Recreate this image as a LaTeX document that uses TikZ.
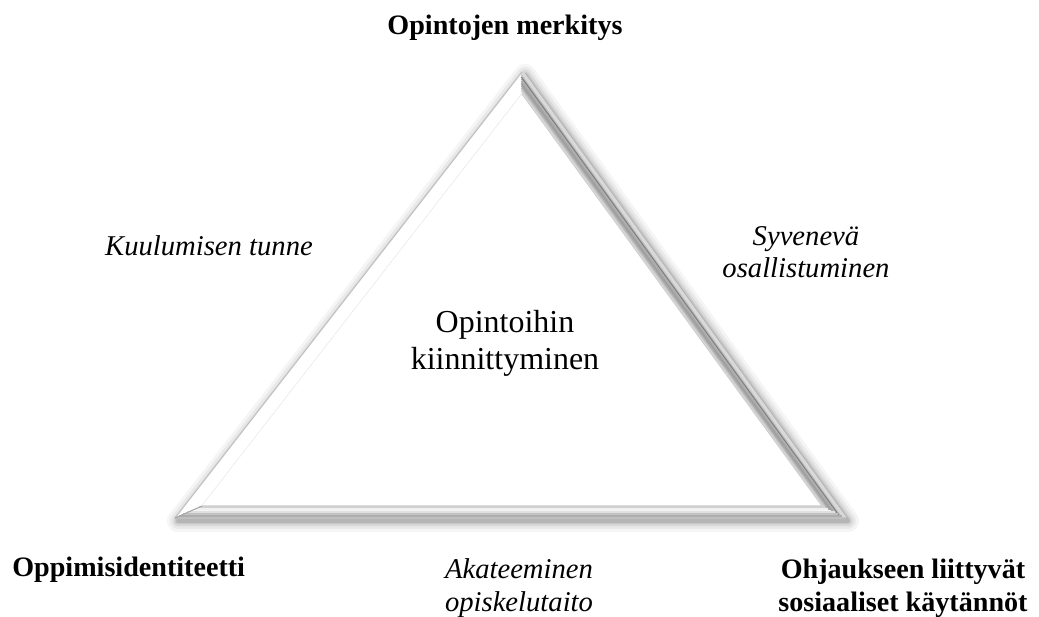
\documentclass[tikz,border=0pt]{standalone}
\usepackage{fontspec}
\setmainfont{Liberation Serif}
\usetikzlibrary{calc}
\begin{document}
\begin{tikzpicture}[x=0.02cm,y=-0.02cm,
  lab/.style={font=\fontsize{16}{18.7}\selectfont\bfseries, align=center, inner sep=0pt},
  itl/.style={font=\fontsize{16.3}{18.5}\selectfont\itshape, align=center, inner sep=0pt},
  ctr/.style={font=\fontsize{18.2}{21}\selectfont, align=center, inner sep=0pt}]
\useasboundingbox (0,0) rectangle (1039,617);
% corners
\coordinate (Ot) at (522,72);
\coordinate (Ol) at (175,518);
\coordinate (Or) at (845,518);
\coordinate (It) at (522,94);
\coordinate (Il) at (202,506);
\coordinate (Ir) at (822,506);
% soft shadow
\foreach \w/\o in {22/0.04,16/0.05,11/0.06,7/0.08,4/0.10}{
  \draw[black, opacity=\o, line width=\w*0.02cm, line join=round] ($(Ot)+(3,3)$) -- ($(Ol)+(3,3)$) -- ($(Or)+(3,3)$) -- cycle;
}
% frame faces
\fill[white] (Ot) -- (Ol) -- (Il) -- (It) -- cycle;
\foreach \t/\c in {0/5,0.1/10,0.2/18,0.3/26,0.4/34,0.5/38,0.6/34,0.7/30,0.8/50,0.9/25,1/15}{
  \draw[black!\c, line width=0.06cm] ($(It)!\t!(Ot)$) -- ($(Ir)!\t!(Or)$);
}
\foreach \t/\c in {0/35,0.12/18,0.25/6,0.4/4,0.55/12,0.7/24,0.85/32,1/25}{
  \draw[black!\c, line width=0.05cm] ($(Il)!\t!(Ol)$) -- ($(Ir)!\t!(Or)$);
}
\draw[black!25, line width=0.02cm] (Ol) -- (Ot);
\draw[black!12, line width=0.02cm] (Il) -- (It);
\draw[black!35, line width=0.02cm] (Il) -- (Ol);
\fill[white] (It) -- (Il) -- (Ir) -- cycle;
\draw[black!20, line width=0.02cm] (Il) -- (Ir) -- (It);
% texts
\node[lab] (top) at (505,28) {Opintojen merkitys};
\node[itl] (kt) at (209,246) {Kuulumisen tunne};
\node[itl] (so) at (806,252) {Syvenevä\\osallistuminen};
\node[ctr] (ok) at (505,343) {Opintoihin\\kiinnittyminen};
\node[lab, anchor=west] (oi) at (12,570) {Oppimisidentiteetti};
\node[itl] (ao) at (519,588) {Akateeminen\\opiskelutaito};
\node[lab] (os) at (903,588) {Ohjaukseen liittyvät\\sosiaaliset käytännöt};
\end{tikzpicture}
\end{document}
